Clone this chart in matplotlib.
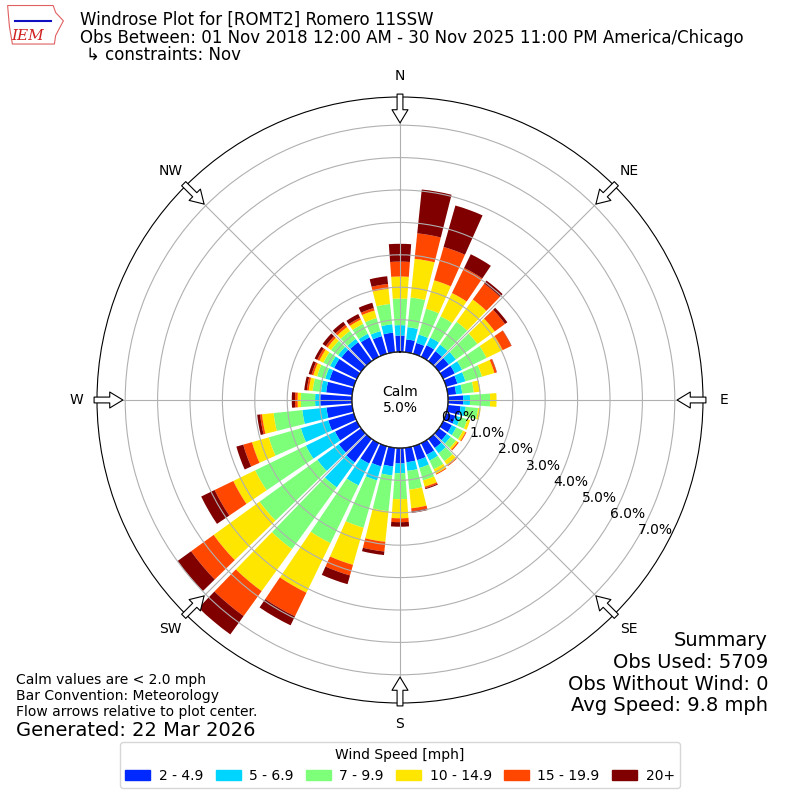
import numpy as np
import matplotlib
matplotlib.use('Agg')
import matplotlib.pyplot as plt
from matplotlib.patches import Patch, Polygon

# direction bins (deg, meteorological) and frequency (%) per speed class
directions = np.arange(0, 360, 10)
speed_labels = ['2 - 4.9', '5 - 6.9', '7 - 9.9', '10 - 14.9', '15 - 19.9', '20+']

s_2_5 = [0.51, 0.40, 0.35, 0.40, 0.38, 0.38, 0.40, 0.36, 0.26, 0.47,
         0.40, 0.30, 0.30, 0.30, 0.35, 0.40, 0.45, 0.45, 0.48, 0.58,
         0.65, 0.70, 0.90, 0.85, 0.75, 0.82, 0.80, 0.98, 0.81, 0.78,
         0.78, 0.75, 0.72, 0.67, 0.57, 0.61]
s_5_7 = [0.32, 0.38, 0.27, 0.26, 0.25, 0.27, 0.25, 0.26, 0.19, 0.21,
         0.16, 0.15, 0.15, 0.15, 0.20, 0.20, 0.25, 0.27, 0.30, 0.28,
         0.45, 0.75, 0.95, 0.82, 1.00, 0.88, 0.75, 0.16, 0.16, 0.14,
         0.14, 0.13, 0.13, 0.12, 0.16, 0.26]
s_7_10 = [0.82, 0.92, 0.83, 0.73, 0.87, 0.82, 0.84, 0.53, 0.36, 0.62,
          0.38, 0.23, 0.23, 0.20, 0.30, 0.30, 0.40, 0.58, 0.80, 1.11,
          1.52, 1.98, 2.35, 2.20, 1.74, 1.03, 0.89, 0.44, 0.26, 0.26,
          0.23, 0.27, 0.30, 0.34, 0.42, 0.63]
s_10_15 = [0.68, 1.20, 0.91, 0.80, 0.85, 0.66, 0.55, 0.40, 0.19, 0.20,
           0.08, 0.09, 0.09, 0.07, 0.16, 0.15, 0.20, 0.58, 0.59, 0.95,
           1.19, 1.70, 1.60, 1.75, 0.75, 0.54, 0.36, 0.10, 0.12, 0.12,
           0.14, 0.13, 0.15, 0.15, 0.24, 0.47]
s_15_20 = [0.46, 0.79, 1.07, 0.86, 0.60, 0.39, 0.30, 0.07, 0.01, 0.00,
           0.00, 0.00, 0.03, 0.04, 0.03, 0.03, 0.05, 0.09, 0.12, 0.30,
           0.34, 0.81, 0.95, 0.86, 0.64, 0.28, 0.06, 0.08, 0.06, 0.06,
           0.07, 0.07, 0.08, 0.06, 0.08, 0.15]
s_20p = [0.55, 1.36, 1.33, 0.47, 0.12, 0.09, 0.01, 0.01, 0.00, 0.00,
         0.00, 0.00, 0.00, 0.00, 0.00, 0.00, 0.03, 0.05, 0.14, 0.11,
         0.28, 0.31, 0.70, 0.51, 0.46, 0.22, 0.09, 0.10, 0.08, 0.09,
         0.09, 0.12, 0.12, 0.13, 0.17, 0.24]
speed_data = [s_2_5, s_5_7, s_7_10, s_10_15, s_15_20, s_20p]
calm_pct = 5.0

colors = plt.cm.jet(np.linspace(0, 1, 7)[1:])

fig = plt.figure(figsize=(8, 8), dpi=100)
ax = fig.add_axes([0.12125, 0.12125, 0.7575, 0.7575], projection='polar')
ax.set_theta_zero_location('N')
ax.set_theta_direction(-1)

theta = np.radians(directions)
width = np.radians(8.2)
bottom = np.zeros(len(directions))
for vals, c in zip(speed_data, colors):
    vals = np.array(vals)
    ax.bar(theta, vals, width=width, bottom=bottom, color=c, edgecolor='none', zorder=2)
    bottom = bottom + vals

ax.set_ylim(0, 7.87)
ax.set_rorigin(-1.48)
ax.set_rticks(range(8))
ax.set_yticklabels(['%.1f%%' % v for v in range(8)], fontsize=10)
ax.set_rlabel_position(120)
ax.set_thetagrids(range(0, 360, 45), labels=[''] * 8)
ax.grid(True, color='#b0b0b0', lw=0.8)
ax.set_axisbelow(False)
for g in ax.yaxis.get_gridlines() + ax.xaxis.get_gridlines():
    g.set_zorder(3)

# calm circle edge
tt = np.linspace(0, 2 * np.pi, 361)
ax.plot(tt, np.zeros_like(tt), color='k', lw=1, zorder=4)
ax.text(0.5, 0.5, 'Calm\n%.1f%%' % calm_pct, transform=ax.transAxes,
        ha='center', va='center', fontsize=10)

# compass labels and flow arrows
compass = ['N', 'NE', 'E', 'SE', 'S', 'SW', 'W', 'NW']
for i, lab in enumerate(compass):
    a = np.radians(i * 45)
    ax.text(a, 8.52, lab, ha='center', va='center', fontsize=10, clip_on=False)
    ax.annotate('', xy=(a, 7.07), xytext=(a, 7.96), annotation_clip=False,
                arrowprops=dict(arrowstyle='simple,head_length=0.95,head_width=1.15,tail_width=0.42',
                                fc='white', ec='k', lw=0.8, mutation_scale=10,
                                shrinkA=0, shrinkB=0), zorder=5)

# titles
fig.text(0.10, 0.975, 'Windrose Plot for [ROMT2] Romero 11SSW', fontsize=12, va='center')
fig.text(0.10, 0.953, 'Obs Between: 01 Nov 2018 12:00 AM - 30 Nov 2025 11:00 PM America/Chicago',
         fontsize=12, va='center')
fig.text(0.107, 0.931, '\u21b3 constraints: Nov', fontsize=12, va='center')

# logo stand-in
lax = fig.add_axes([0.008, 0.938, 0.075, 0.058])
lax.axis('off')
lax.set_xlim(0, 1)
lax.set_ylim(0, 1)
iowa = [(0.02, 0.95), (0.78, 0.95), (0.82, 0.8), (0.95, 0.62), (0.88, 0.45),
        (0.82, 0.3), (0.8, 0.12), (0.1, 0.12), (0.05, 0.5)]
lax.add_patch(Polygon(iowa, closed=True, fill=False, ec='#e06060', lw=0.8))
lax.plot([0.15, 0.75], [0.62, 0.62], color='#1010c0', lw=1.5)
lax.text(0.35, 0.3, 'IEM', color='#d02020', fontsize=11, family='serif',
         style='italic', ha='center', va='center')

# notes
fig.text(0.02, 0.150, 'Calm values are < 2.0 mph', fontsize=10, va='center')
fig.text(0.02, 0.130, 'Bar Convention: Meteorology', fontsize=10, va='center')
fig.text(0.02, 0.110, 'Flow arrows relative to plot center.', fontsize=10, va='center')
fig.text(0.02, 0.0875, 'Generated: 22 Mar 2026', fontsize=14, va='center')

fig.text(0.96, 0.200, 'Summary', fontsize=14, ha='right', va='center')
fig.text(0.96, 0.172, 'Obs Used: 5709', fontsize=14, ha='right', va='center')
fig.text(0.96, 0.145, 'Obs Without Wind: 0', fontsize=14, ha='right', va='center')
fig.text(0.96, 0.118, 'Avg Speed: 9.8 mph', fontsize=14, ha='right', va='center')

handles = [Patch(color=c, label=l) for c, l in zip(colors, speed_labels)]
fig.legend(handles=handles, loc='lower center', bbox_to_anchor=(0.5, 0.006), ncol=6,
           title='Wind Speed [mph]', fontsize=10, title_fontsize=10,
           columnspacing=0.9, handlelength=1.8, handletextpad=0.6)

fig.savefig('out.png', dpi=100)
plt.close(fig)
